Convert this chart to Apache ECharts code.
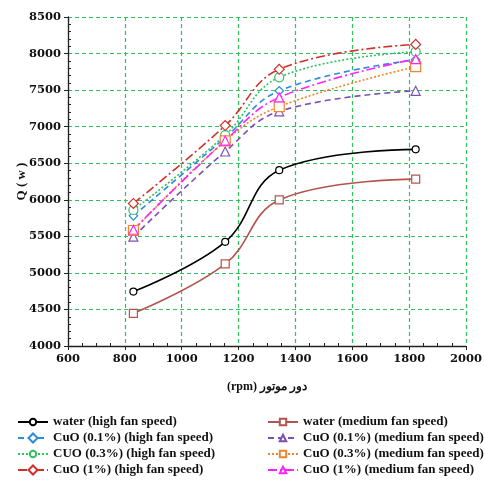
<!DOCTYPE html>
<html>
<head>
<meta charset="utf-8">
<script src="https://cdn.jsdelivr.net/npm/echarts@6/dist/echarts.min.js"></script>
<style>
  html, body { margin: 0; padding: 0; background: #fff; }
  #chart { width: 484px; height: 481px; }
</style>
</head>
<body>
<div id="chart"></div>
<script>
const rpm = [830, 1153, 1343, 1823];
const waterHigh = [4745, 5425, 6405, 6690];
const waterMedium = [4447, 5122, 5998, 6282];
const cuo01High = [5780, 6850, 7490, 7915];
const cuo01Medium = [5495, 6660, 7210, 7490];
const cuo03High = [5860, 6885, 7675, 8025];
const cuo03Medium = [5580, 6805, 7275, 7820];
const cuo1High = [5950, 7015, 7785, 8125];
const cuo1Medium = [5590, 6810, 7400, 7925];

const names = [
  'water (high fan speed)',
  'water (medium fan speed)',
  'CuO (0.1%) (high fan speed)',
  'CuO (0.1%) (medium fan speed)',
  'CUO (0.3%) (high fan speed)',
  'CuO (0.3%) (medium fan speed)',
  'CuO (1%) (high fan speed)',
  'CuO (1%) (medium fan speed)'
];

const FONT = 'Liberation Serif';
const TICK_FONT = 'DejaVu Serif';
const dashDot = [9, 3, 2, 3];

const makeSeries = (name, values, color, dash, symbol, size, rotate) => ({
  name,
  type: 'line',
  smooth: 0.4,
  data: values.map((v, i) => [rpm[i], v]),
  symbol,
  symbolSize: size,
  symbolRotate: rotate || 0,
  showAllSymbol: true,
  lineStyle: { color, width: 1.6, type: dash },
  itemStyle: { color: '#fff', borderColor: color, borderWidth: 1.2 },
  emphasis: { disabled: true },
  z: 3
});

const chart = echarts.init(document.getElementById('chart'));

const series = [
  makeSeries(names[0], waterHigh, '#000000', 'solid', 'circle', 7),
  makeSeries(names[1], waterMedium, '#b5534e', 'solid', 'rect', 8),
  makeSeries(names[2], cuo01High, '#2e8bdb', [6, 4], 'rect', 6, 45),
  makeSeries(names[3], cuo01Medium, '#7d4fb5', [6, 4], 'triangle', 9),
  makeSeries(names[4], cuo03High, '#2fbf5f', [2, 2], 'circle', 9),
  makeSeries(names[5], cuo03Medium, '#f0842c', [2, 2], 'rect', 10),
  makeSeries(names[6], cuo1High, '#d0302c', dashDot, 'rect', 7, 45),
  makeSeries(names[7], cuo1Medium, '#ff22ff', dashDot, 'triangle', 9)
];

const legendCommon = {
  orient: 'vertical',
  itemWidth: 30,
  itemHeight: 8,
  itemGap: 2,
  height: 90,
  padding: 0,
  selectedMode: false,
  textStyle: { fontFamily: FONT, fontWeight: 'bold', fontSize: 13, lineHeight: 14, color: '#111' }
};

const gridLine = { show: true, lineStyle: { color: '#2fc25b', type: [4, 3], width: 1.2 } };
const plain = (v) => String(v);

chart.setOption({
  animation: false,
  backgroundColor: '#fff',
  grid: { left: 68, right: 18, top: 17, bottom: 135, outerBoundsMode: 'none' },
  legend: [
    Object.assign({ left: 17, top: 415, data: [names[0], names[2], names[4], names[6]] }, legendCommon),
    Object.assign({ left: 267, top: 415, data: [names[1], names[3], names[5], names[7]] }, legendCommon)
  ],
  xAxis: [
    {
      type: 'value',
      min: 600,
      max: 2000,
      interval: 200,
      name: '(rpm) دور موتور',
      nameLocation: 'middle',
      nameGap: 35,
      nameMoveOverlap: false,
      nameTextStyle: { fontFamily: FONT, fontWeight: 'bold', fontSize: 12, color: '#111' },
      axisLine: { onZero: false, lineStyle: { color: '#222', width: 1.3 } },
      axisTick: { show: true, length: 4, lineStyle: { color: '#222' } },
      axisLabel: { fontFamily: TICK_FONT, fontWeight: 'bold', fontSize: 11.5, color: '#111', margin: 7, formatter: plain },
      splitLine: gridLine
    },
    {
      type: 'value',
      min: 600,
      max: 2000,
      interval: 200,
      position: 'bottom',
      axisLine: { show: false },
      axisTick: { show: false, inside: true },
      minorTick: { show: true, splitNumber: 4, length: 3, lineStyle: { color: '#222' } },
      axisLabel: { show: false },
      splitLine: { show: false }
    }
  ],
  yAxis: [
    {
      type: 'value',
      min: 4000,
      max: 8500,
      interval: 500,
      name: 'Q ( w )',
      nameLocation: 'middle',
      nameGap: 40,
      nameMoveOverlap: false,
      nameRotate: 90,
      nameTextStyle: { fontFamily: FONT, fontWeight: 'bold', fontSize: 13, color: '#111' },
      axisLine: { show: true, lineStyle: { color: '#222', width: 1.3 } },
      axisTick: { show: true, length: 4, lineStyle: { color: '#222' } },
      axisLabel: { fontFamily: TICK_FONT, fontWeight: 'bold', fontSize: 11.5, color: '#111', margin: 7, formatter: plain },
      splitLine: gridLine
    },
    {
      type: 'value',
      min: 4000,
      max: 8500,
      interval: 500,
      position: 'left',
      axisLine: { show: false },
      axisTick: { show: false, inside: true },
      minorTick: { show: true, splitNumber: 5, length: 3, lineStyle: { color: '#222' } },
      axisLabel: { show: false },
      splitLine: { show: false }
    }
  ],
  series
});
</script>
</body>
</html>
